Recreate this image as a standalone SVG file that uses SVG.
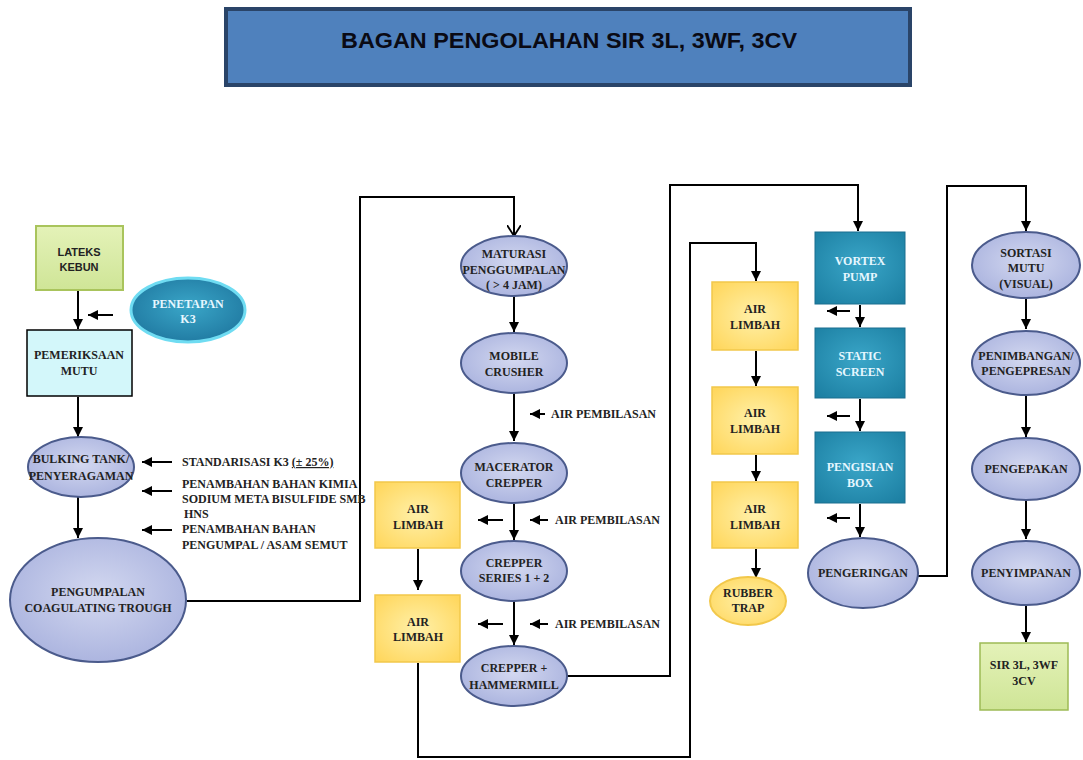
<svg xmlns="http://www.w3.org/2000/svg" width="1083" height="760" viewBox="0 0 1083 760">
<defs>
<radialGradient id="gEll" cx="50%" cy="45%" r="60%">
<stop offset="0" stop-color="#d3d8f0"/><stop offset="1" stop-color="#a9b2de"/>
</radialGradient>
<radialGradient id="gYel" cx="50%" cy="50%" r="65%">
<stop offset="0" stop-color="#fff0a8"/><stop offset="1" stop-color="#ffd75e"/>
</radialGradient>
<radialGradient id="gTeal" cx="50%" cy="45%" r="70%">
<stop offset="0" stop-color="#3aa6c8"/><stop offset="1" stop-color="#1c7fa2"/>
</radialGradient>
<radialGradient id="gK3" cx="50%" cy="45%" r="60%">
<stop offset="0" stop-color="#3aa6c8"/><stop offset="1" stop-color="#1f78a0"/>
</radialGradient>
<linearGradient id="gGreen" x1="0" y1="0" x2="0" y2="1">
<stop offset="0" stop-color="#e4f2b8"/><stop offset="1" stop-color="#cfe597"/>
</linearGradient>
<marker id="ah" markerWidth="10" markerHeight="10" viewBox="0 0 10 10" refX="10" refY="5" orient="auto" markerUnits="userSpaceOnUse">
<path d="M0,0 L10,5 L0,10 z" fill="#000"/>
</marker>
<marker id="av" markerWidth="12" markerHeight="14" viewBox="0 0 12 14" refX="11" refY="7" orient="auto" markerUnits="userSpaceOnUse">
<path d="M0,0 L11,7 L0,14" fill="none" stroke="#000" stroke-width="1.8"/>
</marker>
</defs>
<style>
.ell{fill:url(#gEll);stroke:#4b5b8c;stroke-width:2}
.yel{fill:url(#gYel);stroke:#f2c84b;stroke-width:1.5}
.teal{fill:url(#gTeal);stroke:#1a6f8f;stroke-width:1}
.t{font-family:"Liberation Serif",serif;font-weight:bold;font-size:12px;fill:#222;text-anchor:middle}
.tw{font-family:"Liberation Serif",serif;font-weight:bold;font-size:12px;fill:#e6f7ff;text-anchor:middle}
.lab{font-family:"Liberation Serif",serif;font-weight:bold;font-size:12px;fill:#222}
.s{font-family:"Liberation Sans",sans-serif;font-weight:bold;font-size:11px;fill:#222;text-anchor:middle}
.c{fill:none;stroke:#000;stroke-width:2}
.a{fill:none;stroke:#000;stroke-width:2;marker-end:url(#ah)}
</style>
<rect width="1083" height="760" fill="#fff"/>
<g id="title">
<rect x="226" y="9" width="684" height="76" fill="#4f81bd" stroke="#2a4468" stroke-width="4"/>
<text x="569" y="48" font-family="Liberation Sans,sans-serif" font-weight="bold" font-size="22" fill="#0a0a14" text-anchor="middle" textLength="456" lengthAdjust="spacingAndGlyphs">BAGAN PENGOLAHAN SIR 3L, 3WF, 3CV</text>
</g>
<g id="connectors">
<line class="a" x1="78" y1="291" x2="78" y2="329"/>
<line class="a" x1="113" y1="315" x2="88" y2="315"/>
<line class="a" x1="78" y1="397" x2="78" y2="437"/>
<line class="a" x1="172" y1="462" x2="142" y2="462"/>
<line class="a" x1="172" y1="491" x2="142" y2="491"/>
<line class="a" x1="172" y1="530" x2="142" y2="530"/>
<line class="a" x1="78" y1="497" x2="78" y2="538"/>
<polyline class="c" points="187,601 360,601 360,197 514,197 514,236" marker-end="url(#av)"/>
<line class="a" x1="514" y1="295" x2="514" y2="332"/>
<line class="a" x1="514" y1="393" x2="514" y2="441"/>
<line class="a" x1="545" y1="414" x2="530" y2="414"/>
<line class="a" x1="514" y1="504" x2="514" y2="540"/>
<line class="a" x1="503" y1="520" x2="478" y2="520"/>
<line class="a" x1="548" y1="520" x2="530" y2="520"/>
<line class="a" x1="514" y1="601" x2="514" y2="645"/>
<line class="a" x1="503" y1="624" x2="478" y2="624"/>
<line class="a" x1="548" y1="624" x2="530" y2="624"/>
<line class="a" x1="418" y1="549" x2="418" y2="590"/>
<polyline class="c" points="418,663 418,757 690,757 690,243 756,243 756,281" marker-end="url(#ah)"/>
<polyline class="c" points="567,676 670,676 670,185 858,185 858,231" marker-end="url(#ah)"/>
<line class="a" x1="756" y1="351" x2="756" y2="386"/>
<line class="a" x1="756" y1="455" x2="756" y2="481"/>
<line class="a" x1="756" y1="549" x2="756" y2="578"/>
<line class="a" x1="860" y1="305" x2="860" y2="327"/>
<line class="a" x1="850" y1="311" x2="827" y2="311"/>
<line class="a" x1="860" y1="399" x2="860" y2="431"/>
<line class="a" x1="850" y1="416" x2="827" y2="416"/>
<line class="a" x1="860" y1="504" x2="860" y2="537"/>
<line class="a" x1="850" y1="518" x2="827" y2="518"/>
<polyline class="c" points="918,576 947,576 947,186 1026,186 1026,231" marker-end="url(#ah)"/>
<line class="a" x1="1026" y1="298" x2="1026" y2="329"/>
<line class="a" x1="1026" y1="395" x2="1026" y2="437"/>
<line class="a" x1="1026" y1="501" x2="1026" y2="539"/>
<line class="a" x1="1026" y1="606" x2="1026" y2="642"/>
</g>
<g id="lateks">
<rect x="36" y="226" width="87" height="64" fill="url(#gGreen)" stroke="#a9c45c" stroke-width="2"/>
<text class="s" x="79" y="256">LATEKS</text><text class="s" x="79" y="271">KEBUN</text>
</g>
<g id="penetapan">
<ellipse cx="188" cy="310" rx="57" ry="32" fill="url(#gK3)" stroke="#6fdcf2" stroke-width="3"/>
<text class="tw" x="188" y="308">PENETAPAN</text><text class="tw" x="188" y="323">K3</text>
</g>
<g id="pemeriksaan">
<rect x="27" y="330" width="105" height="66" fill="#d3f7fa" stroke="#000" stroke-width="1.5"/>
<text class="t" x="79" y="359">PEMERIKSAAN</text><text class="t" x="79" y="375">MUTU</text>
</g>
<g id="bulking">
<ellipse class="ell" cx="81" cy="467" rx="53" ry="30"/>
<text class="t" x="81" y="463">BULKING TANK/</text><text class="t" x="81" y="480">PENYERAGAMAN</text>
</g>
<g id="labels-left">
<text class="lab" x="182" y="466">STANDARISASI K3 <tspan text-decoration="underline">(± 25%)</tspan></text>
<text class="lab" x="182" y="488">PENAMBAHAN BAHAN KIMIA</text>
<text class="lab" x="182" y="503">SODIUM META BISULFIDE SMB</text>
<text class="lab" x="184" y="518">HNS</text>
<text class="lab" x="182" y="533">PENAMBAHAN BAHAN</text>
<text class="lab" x="182" y="549">PENGUMPAL / ASAM SEMUT</text>
</g>
<g id="pengumpalan">
<ellipse class="ell" cx="98" cy="600" rx="88" ry="62"/>
<text class="t" x="98" y="596">PENGUMPALAN</text><text class="t" x="98" y="612">COAGULATING TROUGH</text>
</g>
<g id="maturasi">
<ellipse class="ell" cx="514" cy="266" rx="53" ry="30"/>
<text class="t" x="514" y="258">MATURASI</text><text class="t" x="514" y="274">PENGGUMPALAN</text><text class="t" x="514" y="289" font-size="11">( &gt; 4 JAM)</text>
</g>
<g id="mobile">
<ellipse class="ell" cx="514" cy="363" rx="53" ry="30"/>
<text class="t" x="514" y="360">MOBILE</text><text class="t" x="514" y="376">CRUSHER</text>
</g>
<g id="macerator">
<ellipse class="ell" cx="514" cy="473" rx="53" ry="30"/>
<text class="t" x="514" y="471">MACERATOR</text><text class="t" x="514" y="487">CREPPER</text>
</g>
<g id="crepper12">
<ellipse class="ell" cx="514" cy="571" rx="53" ry="30"/>
<text class="t" x="514" y="567">CREPPER</text><text class="t" x="514" y="582">SERIES 1 + 2</text>
</g>
<g id="hammermill">
<ellipse class="ell" cx="514" cy="676" rx="53" ry="30"/>
<text class="t" x="514" y="672">CREPPER +</text><text class="t" x="514" y="689">HAMMERMILL</text>
</g>
<g id="labels-mid">
<text class="lab" x="551" y="418">AIR PEMBILASAN</text>
<text class="lab" x="555" y="524">AIR PEMBILASAN</text>
<text class="lab" x="555" y="628">AIR PEMBILASAN</text>
</g>
<g id="limbah1">
<rect class="yel" x="375" y="482" width="85" height="66"/>
<text class="t" x="418" y="513">AIR</text><text class="t" x="418" y="529">LIMBAH</text>
</g>
<g id="limbah2">
<rect class="yel" x="375" y="595" width="85" height="67"/>
<text class="t" x="418" y="626">AIR</text><text class="t" x="418" y="641">LIMBAH</text>
</g>
<g id="limbah3">
<rect class="yel" x="712" y="282" width="86" height="68"/>
<text class="t" x="755" y="313">AIR</text><text class="t" x="755" y="329">LIMBAH</text>
</g>
<g id="limbah4">
<rect class="yel" x="712" y="387" width="86" height="67"/>
<text class="t" x="755" y="417">AIR</text><text class="t" x="755" y="433">LIMBAH</text>
</g>
<g id="limbah5">
<rect class="yel" x="712" y="482" width="86" height="66"/>
<text class="t" x="755" y="513">AIR</text><text class="t" x="755" y="529">LIMBAH</text>
</g>
<g id="rubbertrap">
<ellipse cx="748" cy="601" rx="38" ry="24" fill="url(#gYel)" stroke="#f2c84b" stroke-width="2"/>
<text class="t" x="748" y="597">RUBBER</text><text class="t" x="748" y="612">TRAP</text>
</g>
<g id="vortex">
<rect class="teal" x="815" y="232" width="90" height="72"/>
<text class="tw" x="860" y="265">VORTEX</text><text class="tw" x="860" y="281">PUMP</text>
</g>
<g id="static">
<rect class="teal" x="815" y="328" width="90" height="70"/>
<text class="tw" x="860" y="360">STATIC</text><text class="tw" x="860" y="376">SCREEN</text>
</g>
<g id="pengisian">
<rect class="teal" x="815" y="432" width="90" height="71"/>
<text class="tw" x="860" y="471">PENGISIAN</text><text class="tw" x="860" y="487">BOX</text>
</g>
<g id="pengeringan">
<ellipse class="ell" cx="863" cy="573" rx="55" ry="35"/>
<text class="t" x="863" y="577">PENGERINGAN</text>
</g>
<g id="sortasi">
<ellipse class="ell" cx="1026" cy="265" rx="54" ry="33"/>
<text class="t" x="1026" y="257">SORTASI</text><text class="t" x="1026" y="272">MUTU</text><text class="t" x="1026" y="288">(VISUAL)</text>
</g>
<g id="penimbangan">
<ellipse class="ell" cx="1026" cy="363" rx="54" ry="32"/>
<text class="t" x="1026" y="360">PENIMBANGAN/</text><text class="t" x="1026" y="375">PENGEPRESAN</text>
</g>
<g id="pengepakan">
<ellipse class="ell" cx="1026" cy="469" rx="54" ry="31"/>
<text class="t" x="1026" y="473">PENGEPAKAN</text>
</g>
<g id="penyimpanan">
<ellipse class="ell" cx="1026" cy="573" rx="54" ry="32"/>
<text class="t" x="1026" y="577">PENYIMPANAN</text>
</g>
<g id="sir">
<rect x="980" y="643" width="88" height="67" fill="url(#gGreen)" stroke="#9dbb55" stroke-width="1.5"/>
<text class="t" x="1024" y="669">SIR 3L, 3WF</text><text class="t" x="1024" y="685">3CV</text>
</g>
</svg>
